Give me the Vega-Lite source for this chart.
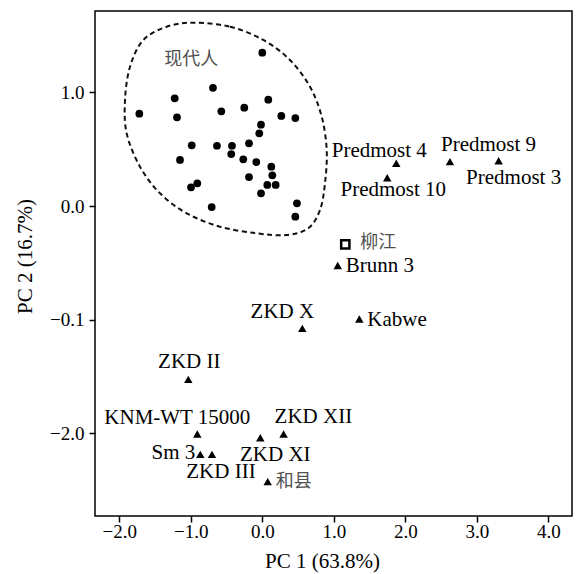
{
  "$schema": "https://vega.github.io/schema/vega-lite/v6.json",
  "width": 477,
  "height": 505,
  "autosize": "none",
  "padding": {"left": 95, "top": 11, "right": 5, "bottom": 58},
  "background": "white",
  "config": {
    "view": {"stroke": "black", "strokeWidth": 1.5},
    "axis": {
      "grid": false,
      "domain": false,
      "tickColor": "black",
      "tickSize": 6,
      "tickWidth": 1.5,
      "labelColor": "black",
      "titleColor": "black",
      "labelFont": "Liberation Serif",
      "titleFont": "Liberation Serif",
      "labelFontSize": 19,
      "titleFontSize": 21,
      "titleFontWeight": "normal"
    }
  },
  "data": {
    "values": [
      {"kind": "outline", "i": 0, "pc1": -0.965, "pc2": 1.612},
      {"kind": "outline", "i": 1, "pc1": -0.452, "pc2": 1.577},
      {"kind": "outline", "i": 2, "pc1": 0.014, "pc2": 1.46},
      {"kind": "outline", "i": 3, "pc1": 0.387, "pc2": 1.284},
      {"kind": "outline", "i": 4, "pc1": 0.667, "pc2": 1.049},
      {"kind": "outline", "i": 5, "pc1": 0.831, "pc2": 0.786},
      {"kind": "outline", "i": 6, "pc1": 0.901, "pc2": 0.493},
      {"kind": "outline", "i": 7, "pc1": 0.877, "pc2": 0.2},
      {"kind": "outline", "i": 8, "pc1": 0.807, "pc2": -0.035},
      {"kind": "outline", "i": 9, "pc1": 0.643, "pc2": -0.196},
      {"kind": "outline", "i": 10, "pc1": 0.341, "pc2": -0.255},
      {"kind": "outline", "i": 11, "pc1": -0.078, "pc2": -0.24},
      {"kind": "outline", "i": 12, "pc1": -0.592, "pc2": -0.182},
      {"kind": "outline", "i": 13, "pc1": -1.057, "pc2": -0.064},
      {"kind": "outline", "i": 14, "pc1": -1.431, "pc2": 0.112},
      {"kind": "outline", "i": 15, "pc1": -1.711, "pc2": 0.346},
      {"kind": "outline", "i": 16, "pc1": -1.897, "pc2": 0.639},
      {"kind": "outline", "i": 17, "pc1": -1.92, "pc2": 0.932},
      {"kind": "outline", "i": 18, "pc1": -1.85, "pc2": 1.225},
      {"kind": "outline", "i": 19, "pc1": -1.664, "pc2": 1.46},
      {"kind": "outline", "i": 20, "pc1": -1.337, "pc2": 1.577},
      {"kind": "modern", "pc1": 0.0, "pc2": 1.348},
      {"kind": "modern", "pc1": -0.69, "pc2": 1.04},
      {"kind": "modern", "pc1": -1.225, "pc2": 0.947},
      {"kind": "modern", "pc1": 0.084, "pc2": 0.935},
      {"kind": "modern", "pc1": -1.72, "pc2": 0.812},
      {"kind": "modern", "pc1": -1.193, "pc2": 0.78},
      {"kind": "modern", "pc1": -0.573, "pc2": 0.833},
      {"kind": "modern", "pc1": -0.252, "pc2": 0.865},
      {"kind": "modern", "pc1": 0.266, "pc2": 0.792},
      {"kind": "modern", "pc1": 0.462, "pc2": 0.774},
      {"kind": "modern", "pc1": -0.018, "pc2": 0.715},
      {"kind": "modern", "pc1": -0.042, "pc2": 0.639},
      {"kind": "modern", "pc1": -0.186, "pc2": 0.551},
      {"kind": "modern", "pc1": -0.987, "pc2": 0.534},
      {"kind": "modern", "pc1": -0.634, "pc2": 0.53},
      {"kind": "modern", "pc1": -0.424, "pc2": 0.53},
      {"kind": "modern", "pc1": -0.434, "pc2": 0.457},
      {"kind": "modern", "pc1": -1.151, "pc2": 0.405},
      {"kind": "modern", "pc1": -0.266, "pc2": 0.411},
      {"kind": "modern", "pc1": -0.084, "pc2": 0.387},
      {"kind": "modern", "pc1": 0.126, "pc2": 0.346},
      {"kind": "modern", "pc1": 0.14, "pc2": 0.27},
      {"kind": "modern", "pc1": -0.186, "pc2": 0.255},
      {"kind": "modern", "pc1": 0.07, "pc2": 0.185},
      {"kind": "modern", "pc1": 0.187, "pc2": 0.185},
      {"kind": "modern", "pc1": -0.909, "pc2": 0.2},
      {"kind": "modern", "pc1": -0.997, "pc2": 0.164},
      {"kind": "modern", "pc1": -0.018, "pc2": 0.112},
      {"kind": "modern", "pc1": -0.708, "pc2": -0.009},
      {"kind": "modern", "pc1": 0.485, "pc2": 0.024},
      {"kind": "modern", "pc1": 0.462, "pc2": -0.094},
      {"kind": "grouplabel", "name": "现代人", "place": "c", "pc1": -0.994, "pc2": 1.284},
      {"kind": "fossil", "name": "Predmost 4", "place": "nw2", "pc1": 1.874, "pc2": 0.376},
      {"kind": "fossil", "name": "Predmost 10", "place": "s", "pc1": 1.748, "pc2": 0.249},
      {"kind": "fossil", "name": "Predmost 9", "place": "ne", "pc1": 2.625, "pc2": 0.39},
      {"kind": "fossil", "name": "Predmost 3", "place": "se", "pc1": 3.306, "pc2": 0.398},
      {"kind": "liujiang", "name": "柳江", "place": "e2", "pc1": 1.161, "pc2": -0.337},
      {"kind": "fossil", "name": "Brunn 3", "place": "e", "pc1": 1.055, "pc2": -0.523},
      {"kind": "fossil", "name": "Kabwe", "place": "e", "pc1": 1.357, "pc2": -0.994},
      {"kind": "fossil", "name": "ZKD X", "place": "nw", "pc1": 0.56, "pc2": -1.076},
      {"kind": "fossil", "name": "ZKD II", "place": "n", "pc1": -1.035, "pc2": -1.524},
      {"kind": "fossil", "name": "KNM-WT 15000", "place": "nw", "pc1": -0.909, "pc2": -2.005},
      {"kind": "fossil", "name": "ZKD XI", "place": "se", "pc1": -0.028, "pc2": -2.038},
      {"kind": "fossil", "name": "ZKD XII", "place": "ne", "pc1": 0.298, "pc2": -2.005},
      {"kind": "fossil", "name": "Sm 3", "place": "w", "pc1": -0.867, "pc2": -2.184},
      {"kind": "fossil", "name": "ZKD III", "place": "sse", "pc1": -0.704, "pc2": -2.184},
      {"kind": "fossil", "name": "和县", "place": "e", "pc1": 0.076, "pc2": -2.424}
    ]
  },
  "encoding": {
    "x": {
      "field": "pc1",
      "type": "quantitative",
      "scale": {"domain": [-2.34, 4.332], "nice": false, "zero": false},
      "axis": {
        "values": [-2, -1, 0, 1, 2, 3, 4],
        "format": ".1f",
        "title": "PC 1 (63.8%)",
        "titleX": 227,
        "titleY": 34,
        "titleAlign": "center",
        "titleBaseline": "top",
        "labelPadding": 0
      }
    },
    "y": {
      "field": "pc2",
      "type": "quantitative",
      "scale": {"domain": [-2.726, 1.715], "nice": false, "zero": false},
      "axis": {
        "values": [1, 0, -1, -2],
        "labelExpr": "datum.value == 1 ? '1.0' : datum.value == 0 ? '0.0' : datum.value == -1 ? '−0.1' : '−2.0'",
        "title": "PC 2 (16.7%)",
        "titleX": -70,
        "titleY": 245,
        "titleAngle": -90,
        "titleAlign": "center",
        "titleBaseline": "middle",
        "labelPadding": 5
      }
    }
  },
  "layer": [
    {
      "transform": [{"filter": "datum.kind == 'outline'"}],
      "mark": {"type": "line", "interpolate": "cardinal-closed", "color": "#111", "strokeWidth": 2, "strokeDash": [5, 3.5]},
      "encoding": {"order": {"field": "i", "type": "quantitative"}}
    },
    {
      "transform": [{"filter": "datum.kind == 'modern'"}],
      "mark": {"type": "point", "shape": "circle", "filled": true, "color": "black", "opacity": 1, "size": 60}
    },
    {
      "transform": [{"filter": "datum.kind == 'fossil'"}],
      "mark": {"type": "point", "shape": "triangle-up", "filled": true, "color": "black", "opacity": 1, "size": 72}
    },
    {
      "transform": [{"filter": "datum.kind == 'liujiang'"}],
      "mark": {"type": "point", "shape": "square", "filled": false, "color": "black", "opacity": 1, "strokeWidth": 2.5, "size": 68}
    },
    {
      "transform": [{"filter": "datum.place == 'nw'"}],
      "mark": {"type": "text", "align": "center", "baseline": "middle", "dx": -20, "dy": -16, "font": "Liberation Serif", "fontSize": 21, "color": "black"},
      "encoding": {"text": {"field": "name"}}
    },
    {
      "transform": [{"filter": "datum.place == 'nw2'"}],
      "mark": {"type": "text", "align": "center", "baseline": "middle", "dx": -17, "dy": -12, "font": "Liberation Serif", "fontSize": 21, "color": "black"},
      "encoding": {"text": {"field": "name"}}
    },
    {
      "transform": [{"filter": "datum.place == 'n'"}],
      "mark": {"type": "text", "align": "center", "baseline": "middle", "dx": 1, "dy": -17, "font": "Liberation Serif", "fontSize": 21, "color": "black"},
      "encoding": {"text": {"field": "name"}}
    },
    {
      "transform": [{"filter": "datum.place == 'ne'"}],
      "mark": {"type": "text", "align": "left", "baseline": "middle", "dx": -9, "dy": -17, "font": "Liberation Serif", "fontSize": 21, "color": "black"},
      "encoding": {"text": {"field": "name"}}
    },
    {
      "transform": [{"filter": "datum.place == 's'"}],
      "mark": {"type": "text", "align": "center", "baseline": "middle", "dx": 6, "dy": 12.5, "font": "Liberation Serif", "fontSize": 21, "color": "black"},
      "encoding": {"text": {"field": "name"}}
    },
    {
      "transform": [{"filter": "datum.place == 'se'"}],
      "mark": {"type": "text", "align": "center", "baseline": "middle", "dx": 15, "dy": 17.5, "font": "Liberation Serif", "fontSize": 21, "color": "black"},
      "encoding": {"text": {"field": "name"}}
    },
    {
      "transform": [{"filter": "datum.place == 'sse'"}],
      "mark": {"type": "text", "align": "center", "baseline": "middle", "dx": 9, "dy": 18, "font": "Liberation Serif", "fontSize": 21, "color": "black"},
      "encoding": {"text": {"field": "name"}}
    },
    {
      "transform": [{"filter": "datum.place == 'w'"}],
      "mark": {"type": "text", "align": "right", "baseline": "middle", "dx": -5, "dy": -1, "font": "Liberation Serif", "fontSize": 21, "color": "black"},
      "encoding": {"text": {"field": "name"}}
    },
    {
      "transform": [{"filter": "datum.place == 'e'"}],
      "mark": {"type": "text", "align": "left", "baseline": "middle", "dx": 8, "dy": 0.5, "font": "Liberation Serif, Noto Sans CJK SC"},
      "encoding": {
        "text": {"field": "name"},
        "color": {"condition": {"test": "datum.name == '和县'", "value": "#505050"}, "value": "black"},
        "size": {"condition": {"test": "datum.name == '和县'", "value": 18}, "value": 21}
      }
    },
    {
      "transform": [{"filter": "datum.place == 'e2'"}],
      "mark": {"type": "text", "align": "left", "baseline": "middle", "dx": 15, "dy": -1, "font": "Noto Sans CJK SC", "fontSize": 18, "color": "#505050"},
      "encoding": {"text": {"field": "name"}}
    },
    {
      "transform": [{"filter": "datum.place == 'c'"}],
      "mark": {"type": "text", "align": "center", "baseline": "middle", "font": "Noto Sans CJK SC", "fontSize": 18, "color": "#505050"},
      "encoding": {"text": {"field": "name"}}
    }
  ]
}
